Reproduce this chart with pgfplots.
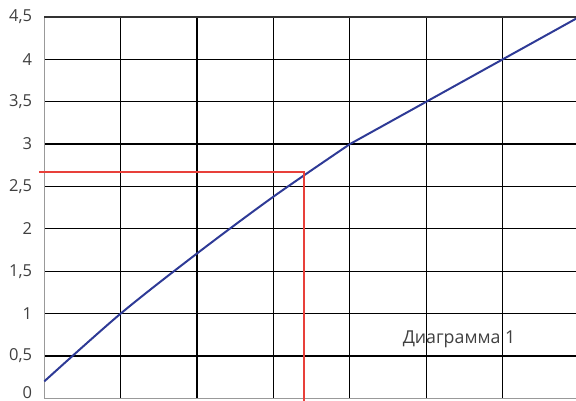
\documentclass[border=0pt]{standalone}
\usepackage{pgfplots}
\pgfplotsset{compat=1.18}
\usepackage{fontspec}
\setmainfont{Open Sans}
\definecolor{curve}{RGB}{46,58,150}
\definecolor{redl}{RGB}{232,64,58}
\definecolor{lbl}{RGB}{64,64,64}
\begin{document}
\begin{tikzpicture}
\begin{axis}[
  scale only axis,
  width=531.7bp, height=381.3bp,
  xmin=0, xmax=6.96, ymin=0, ymax=4.5,
  clip=false,
  axis x line*=bottom, axis y line*=left,
  axis line style={draw=gray!80, line width=1.3pt, -},
  xtick={1,2,3,4,5,6}, xticklabels={},
  ytick={0,0.5,1,1.5,2,2.5,3,3.5,4,4.5},
  yticklabels={\raisebox{12bp}{0},{0,5},1,{1,5},2,{2,5},3,{3,5},4,{4,5}},
  major tick length=0pt,
  grid=major,
  major grid style={draw=black, line width=1.2pt},
  yticklabel style={inner sep=0pt, xshift=-12bp, text=lbl, font=\fontsize{16.5bp}{19bp}\selectfont},
]
\addplot[draw=black!80, line width=1.2pt] coordinates {(0,4.5) (6.96,4.5)};
\addplot[curve, line width=2pt, smooth] coordinates {(0,0.2) (1,1) (2,1.71) (3,2.38) (4,3)};
\addplot[curve, line width=2pt] coordinates {(4,3) (5,3.5) (6,4) (6.96,4.48)};
\addplot[redl, line width=2.2pt] coordinates {(-0.07,2.675) (3.4,2.675) (3.4,-0.04)};
\node[anchor=west, inner sep=0pt, text=lbl, font=\fontsize{17.8bp}{21bp}\selectfont] at (axis cs:4.69,0.70) {Диаграмма 1};
\end{axis}
\pgfresetboundingbox
\path[use as bounding box] (-44.3bp,-2.7bp) rectangle (531.7bp,398.3bp);
\end{tikzpicture}
\end{document}
